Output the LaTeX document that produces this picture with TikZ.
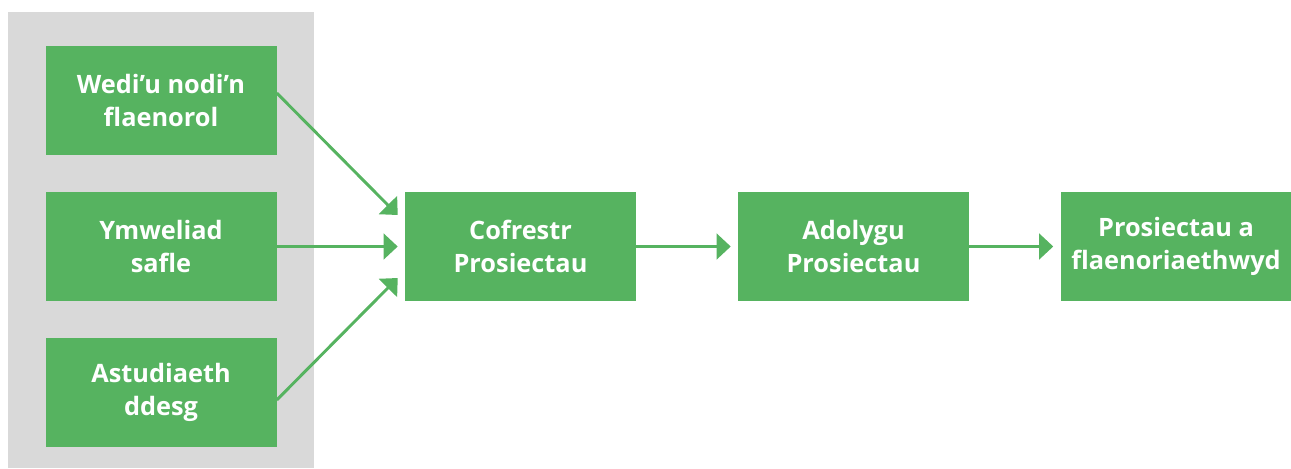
\documentclass[tikz,border=0pt]{standalone}
\usepackage{fontspec}
\setmainfont{Open Sans}
\usetikzlibrary{arrows.meta}
\definecolor{boxgreen}{HTML}{56B360}
\definecolor{panelgrey}{HTML}{D9D9D9}
\begin{document}
\begin{tikzpicture}[x=0.75pt,y=-0.75pt]
        \tikzset{
            box/.style={rectangle, fill=boxgreen, text=white, minimum width=173.25pt,
            minimum height=81.75pt, inner sep=0pt, align=center,
            font=\fontsize{19}{24.75}\selectfont\bfseries},
            arr/.style={-{Triangle[length=10.5pt,width=19pt]}, boxgreen, line width=2.2pt}
            }

            \useasboundingbox (0,0) rectangle (1291,468);
            \fill[panelgrey] (8,12) rectangle (314,468);

            \node[box] (w1) at (161,100.5) {Wedi’u nodi’n\\flaenorol};
            \node[box] (w2) at (161,246.5) {Ymweliad\\safle};
            \node[box] (w3) at (161,392.5) {Astudiaeth\\ddesg};
            \node[box] (c1) at (520.5,246.5) {Cofrestr\\Prosiectau};
            \node[box] (c2) at (853.5,246.5) {Adolygu\\Prosiectau};
            \node[box] (c3) at (1176,246.5) {Prosiectau a\\flaenoriaethwyd};

            \draw[arr] ([shift={(0,-7.5)}]w1.east) -- ([shift={(-7,-31.5)}]c1.west);
            \draw[arr] (w2.east) -- ([shift={(-7,0)}]c1.west);
            \draw[arr] ([shift={(0,7.5)}]w3.east) -- ([shift={(-7,31.5)}]c1.west);
            \draw[arr] (c1.east) -- ([shift={(-7,0)}]c2.west);
            \draw[arr] (c2.east) -- ([shift={(-7,0)}]c3.west);
        \end{tikzpicture}
\end{document}
